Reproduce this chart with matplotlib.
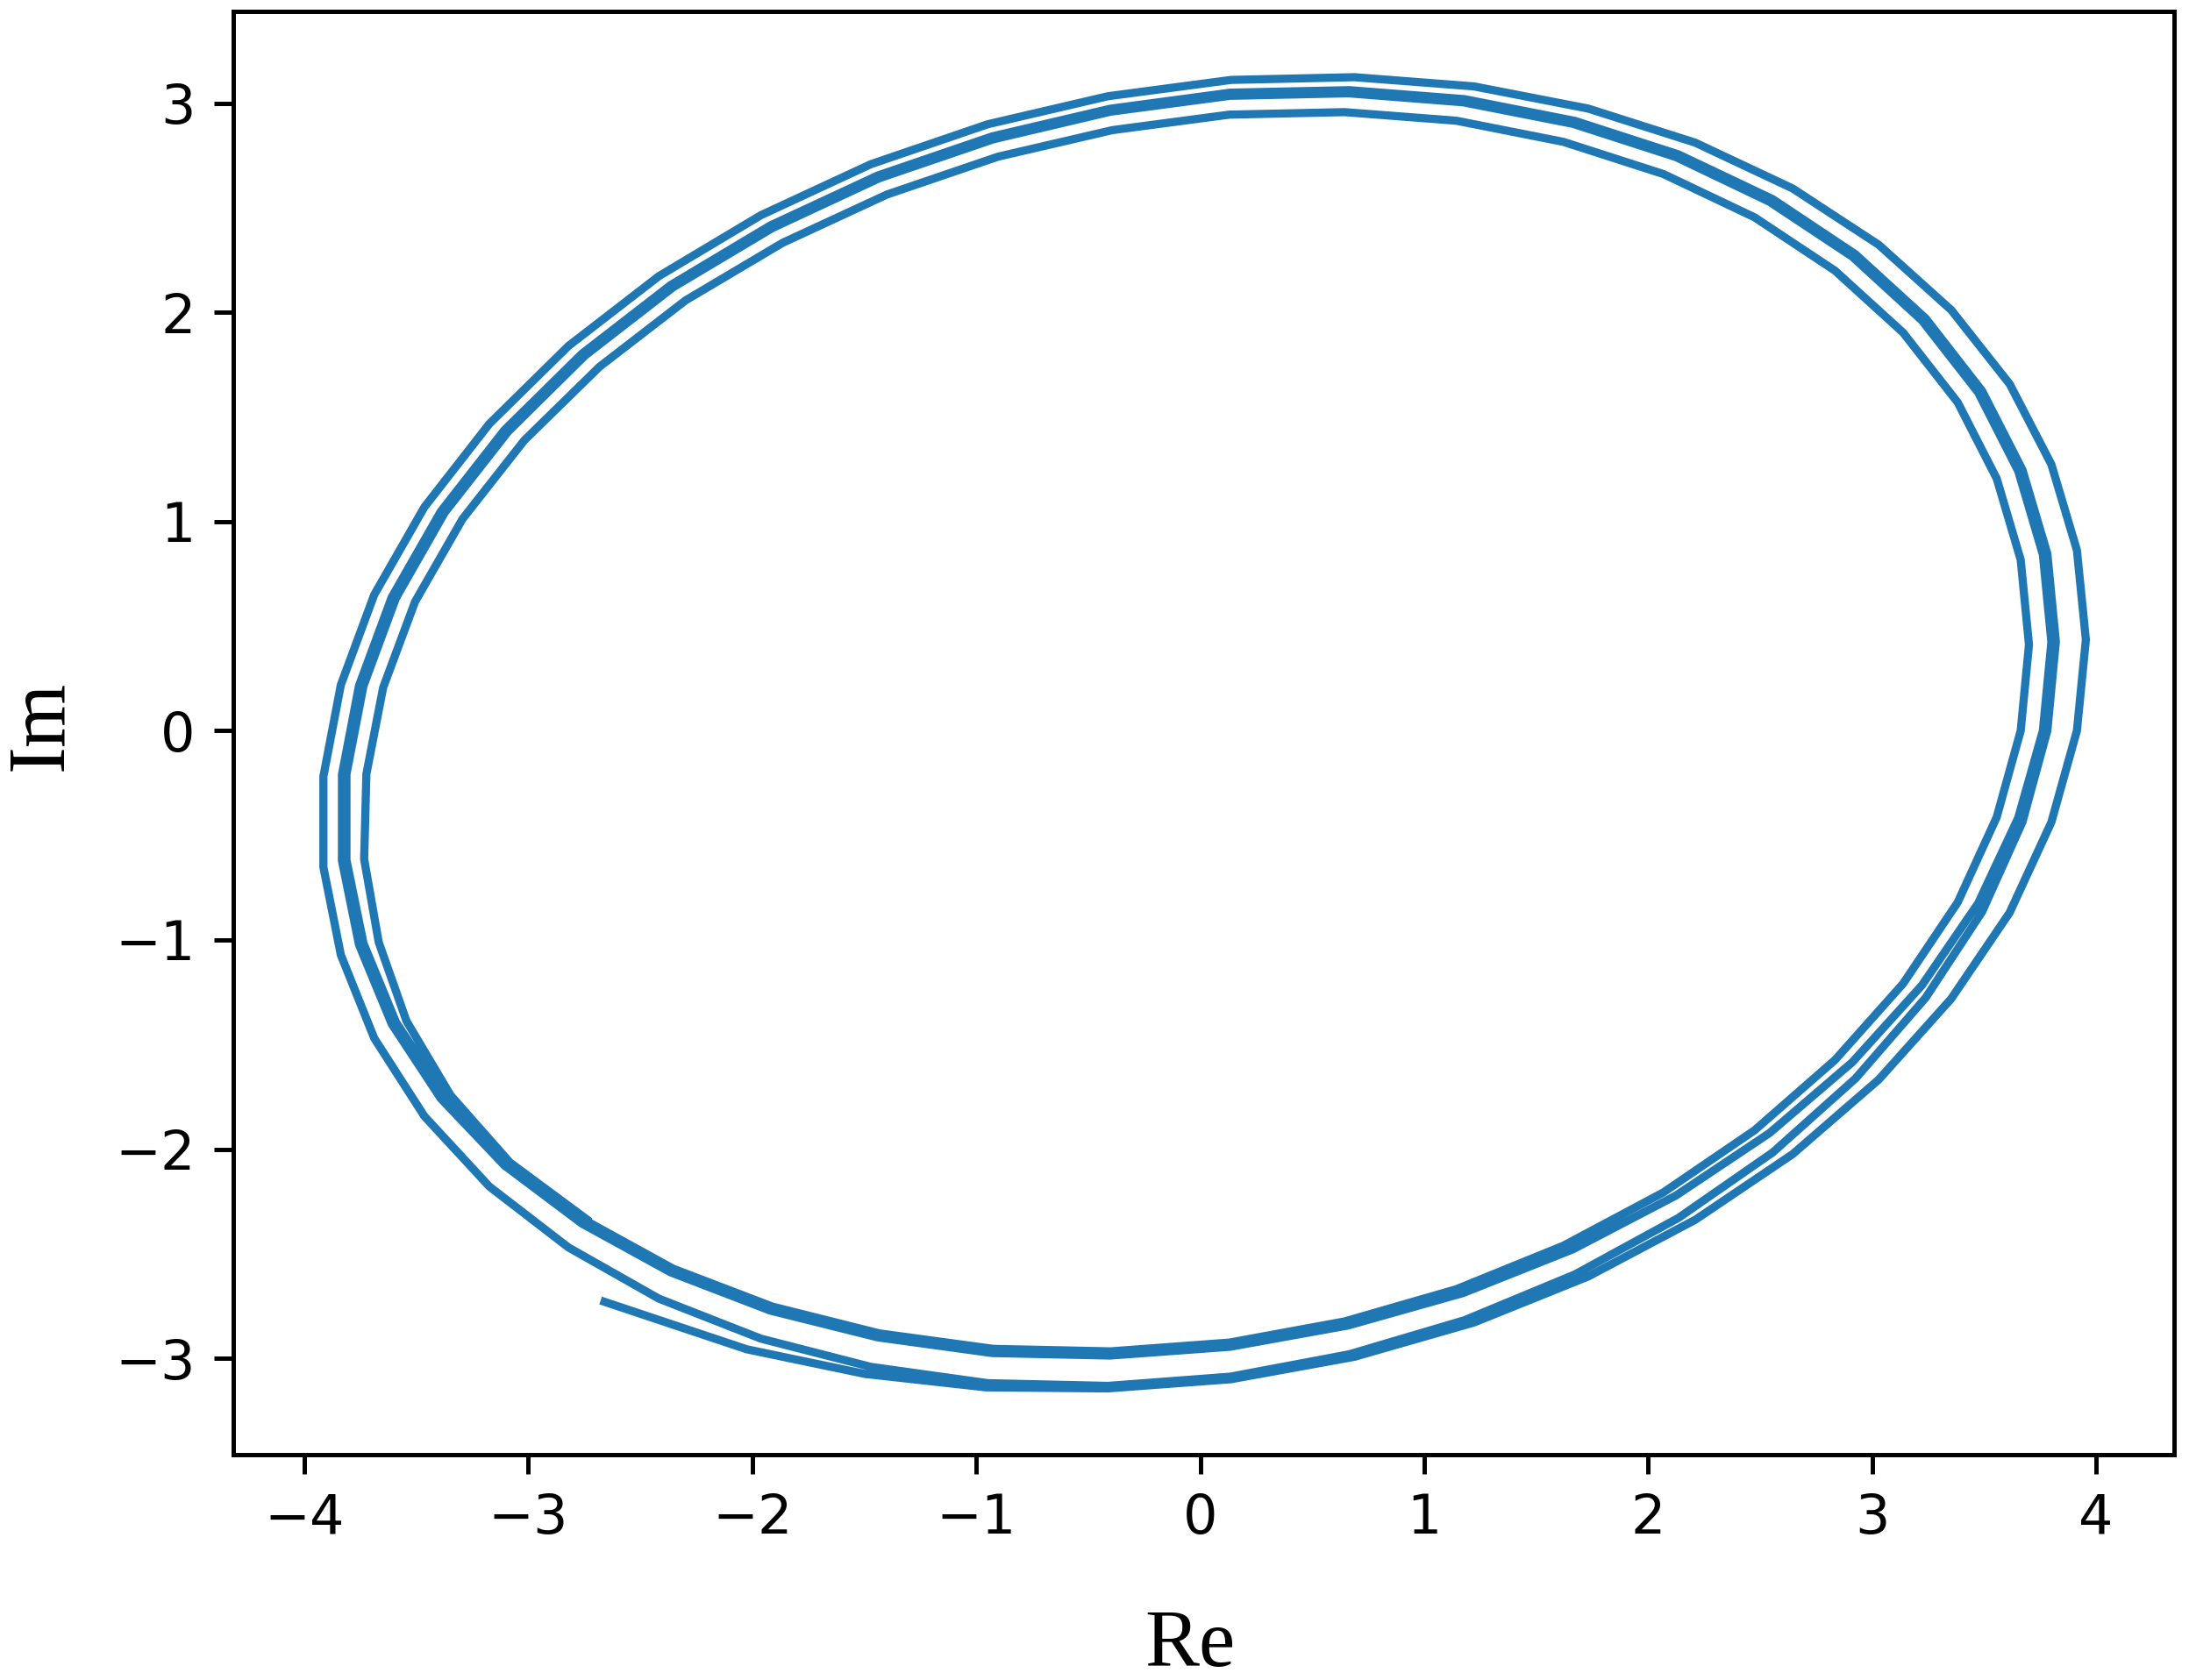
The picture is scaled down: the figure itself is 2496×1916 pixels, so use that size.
import numpy as np
import matplotlib
matplotlib.use('Agg')
import matplotlib.pyplot as plt

# trajectory in the complex plane, read off the picture turn by turn
# (starts at the short stub in the lower left and spirals slowly inwards)
loop1_re = [-2.660, -2.025, -1.496, -0.956, -0.413, 0.138, 0.688, 1.222, 1.732, 2.210, 2.645, 3.029,
            3.353, 3.614, 3.800, 3.914, 3.954, 3.914, 3.800, 3.614, 3.353, 3.029, 2.645, 2.210,
            1.732, 1.222, 0.688, 0.138, -0.412, -0.949, -1.471, -1.962, -2.417, -2.821, -3.174, -3.464,
            -3.688, -3.837, -3.915, -3.915, -3.837, -3.688, -3.464, -3.174, -2.821]
loop1_im = [-2.730, -2.957, -3.075, -3.139, -3.144, -3.100, -2.993, -2.829, -2.609, -2.338, -2.024, -1.668,
            -1.281, -0.869, -0.437, 0.000, 0.435, 0.863, 1.273, 1.657, 2.011, 2.323, 2.592, 2.811,
            2.974, 3.080, 3.124, 3.111, 3.033, 2.899, 2.708, 2.464, 2.173, 1.839, 1.467, 1.069,
            0.650, 0.219, -0.219, -0.652, -1.072, -1.470, -1.843, -2.179, -2.470]

loop2_re = [-2.417, -1.962, -1.471, -0.949, -0.412, 0.134, 0.665, 1.180, 1.673, 2.135, 2.556, 2.926,
            3.239, 3.491, 3.671, 3.782, 3.820, 3.782, 3.671, 3.491, 3.239, 2.926, 2.556, 2.135,
            1.673, 1.180, 0.665, 0.134, -0.403, -0.929, -1.440, -1.920, -2.365, -2.761, -3.107, -3.391,
            -3.610, -3.756, -3.832, -3.832, -3.756, -3.610, -3.391, -3.107, -2.761]
loop2_im = [-2.715, -2.906, -3.041, -3.119, -3.132, -3.088, -2.981, -2.818, -2.599, -2.329, -2.016, -1.662,
            -1.276, -0.865, -0.436, 0.000, 0.426, 0.846, 1.247, 1.624, 1.971, 2.277, 2.541, 2.755,
            2.915, 3.019, 3.062, 3.050, 2.973, 2.841, 2.654, 2.415, 2.130, 1.802, 1.437, 1.048,
            0.638, 0.215, -0.209, -0.622, -1.023, -1.402, -1.758, -2.078, -2.356]

loop3_re = [-2.365, -1.920, -1.440, -0.929, -0.403, 0.133, 0.661, 1.174, 1.664, 2.124, 2.542, 2.911,
            3.222, 3.473, 3.652, 3.762, 3.800, 3.762, 3.652, 3.473, 3.222, 2.911, 2.542, 2.124,
            1.664, 1.174, 0.661, 0.133, -0.401, -0.924, -1.433, -1.910, -2.353, -2.747, -3.090, -3.373,
            -3.591, -3.736, -3.812, -3.812, -3.736, -3.591, -3.373, -3.090, -2.747]
loop3_im = [-2.589, -2.772, -2.900, -2.975, -2.987, -2.945, -2.843, -2.688, -2.479, -2.222, -1.923, -1.585,
            -1.217, -0.825, -0.416, 0.000, 0.424, 0.842, 1.241, 1.617, 1.961, 2.266, 2.528, 2.742,
            2.901, 3.004, 3.047, 3.035, 2.959, 2.827, 2.641, 2.403, 2.120, 1.793, 1.430, 1.043,
            0.634, 0.214, -0.208, -0.618, -1.016, -1.393, -1.746, -2.064, -2.340]

loop4_re = [-2.353, -1.910, -1.433, -0.924, -0.401, 0.130, 0.644, 1.143, 1.621, 2.068, 2.475, 2.834,
            3.138, 3.382, 3.556, 3.663, 3.700, 3.663, 3.556, 3.382, 3.138, 2.834, 2.475, 2.068,
            1.621, 1.143, 0.644, 0.130, -0.392, -0.903, -1.399, -1.865, -2.298, -2.682, -3.018, -3.294,
            -3.506, -3.648, -3.723, -3.733, -3.668, -3.544, -3.347, -3.082, -2.740]
loop4_im = [-2.572, -2.753, -2.881, -2.955, -2.967, -2.925, -2.824, -2.670, -2.462, -2.207, -1.910, -1.574,
            -1.209, -0.820, -0.413, 0.000, 0.411, 0.817, 1.205, 1.569, 1.903, 2.199, 2.454, 2.661,
            2.815, 2.916, 2.957, 2.945, 2.871, 2.744, 2.563, 2.332, 2.057, 1.740, 1.388, 1.012,
            0.616, 0.207, -0.207, -0.614, -1.011, -1.388, -1.743, -2.064, -2.335]

re = np.concatenate([loop1_re, loop2_re, loop3_re, loop4_re])
im = np.concatenate([loop1_im, loop2_im, loop3_im, loop4_im])

# original looks like a default 6.4x4.8 figure blown up, so use a big dpi
dpi = 446
fig = plt.figure(figsize=(2496 / dpi, 1916 / dpi), dpi=dpi)
ax = fig.add_axes([0.1066, 0.1341, 0.8866, 0.8593])
ax.plot(re, im)
ax.set_xlim(-4.317, 4.348)
ax.set_ylim(-3.461, 3.44)

# axis names were set in a serif face, outside the axes
fig.text(0.5437, 0.0084, 'Re', ha='center', va='baseline',
         family='Liberation Serif', fontsize=15)
fig.text(0.028, 0.568, 'Im', rotation=90, rotation_mode='anchor',
         ha='center', va='baseline', family='Liberation Serif', fontsize=15)

fig.savefig('out.png', dpi=dpi)
